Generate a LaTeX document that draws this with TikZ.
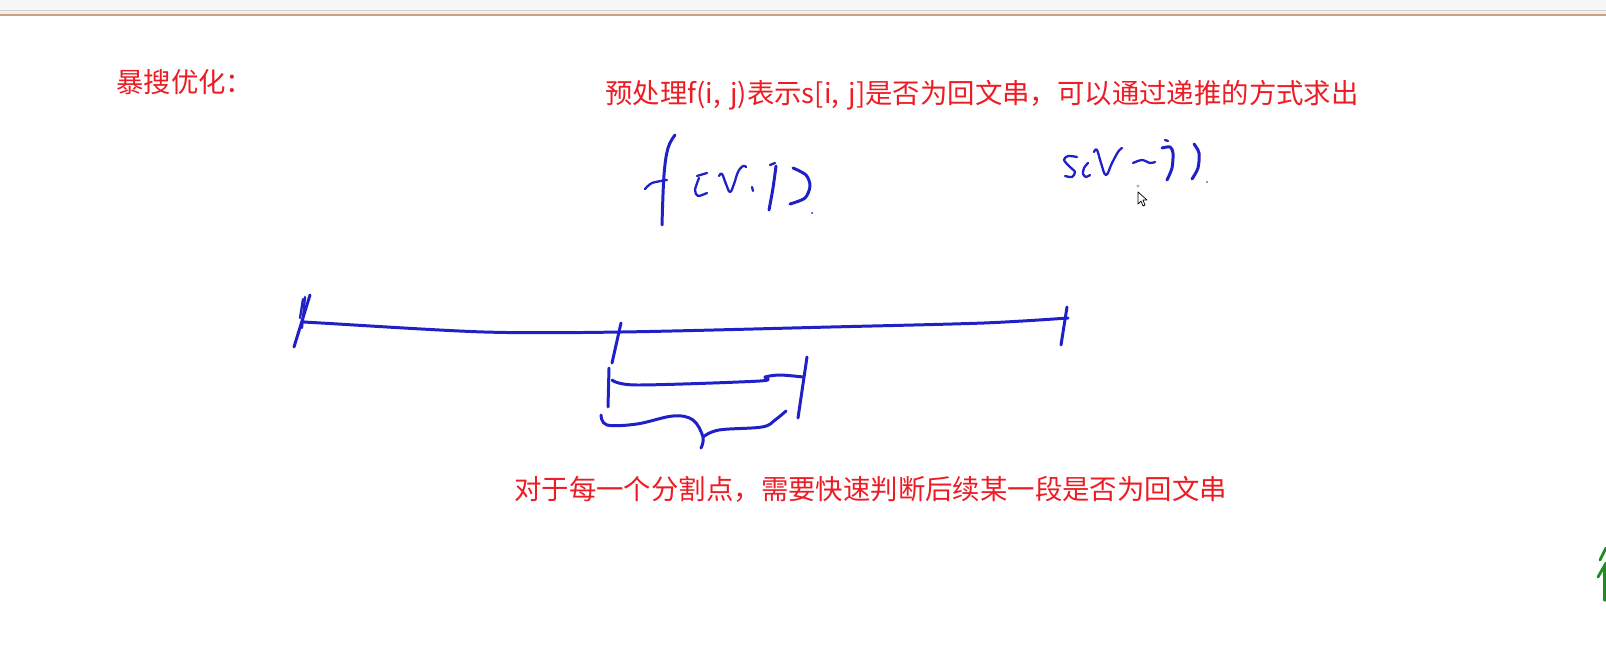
\documentclass[tikz,border=0pt]{standalone}
\usepackage{fontspec}
\newfontfamily\cjk{Noto Sans CJK SC}
\usetikzlibrary{positioning}
\definecolor{notered}{RGB}{237,28,36}
\definecolor{pen}{RGB}{32,32,200}
\definecolor{pengreen}{RGB}{30,140,30}
\definecolor{barbg}{RGB}{247,247,247}
\definecolor{barpeach}{RGB}{253,236,226}
\definecolor{barline}{RGB}{196,160,140}

\begin{document}
\begin{tikzpicture}[x=0.02cm,y=-0.02cm,
    remark/.style={font=\cjk\fontsize{15.6}{18}\selectfont,text=notered,inner sep=0pt,anchor=west},
    ink/.style={draw=pen,line width=1.7pt,line cap=round,line join=round},
    thin ink/.style={ink,line width=1.3pt}]
   \useasboundingbox (0,0) rectangle (1606,668);
   % window bar
   \fill[barbg] (0,0) rectangle (1606,10);
   \draw[gray!35,line width=0.4pt] (0,10.3)--(1606,10.3);
   \fill[barpeach] (0,11) rectangle (1606,15);
   \draw[barline,line width=0.8pt] (0,15.2)--(1606,15.2);
   % notes
   \node[remark] (title) at (116,82) {暴搜优化：};
   \node[remark] (pre) at (605,95) {预处理f(i,\hspace{0.12em} j)表示s[i,\hspace{0.12em} j]是否为回文串，可以通过递推的方式求出};
   \node[remark] (cut) at (514,489) {对于每一个分割点，需要快速判断后续某一段是否为回文串};
   % handwriting f(i,j)
   \draw[ink] plot[smooth,tension=0.6] coordinates {(675,135) (668,148) (664,175) (662,225)};
   \draw[thin ink] plot[smooth] coordinates {(645,189) (652,183) (667,180)};
   \draw[thin ink] (697,176)--(707,173);
   \draw[thin ink] plot[smooth] coordinates {(699,178) (695,190) (698,196) (707,193)};
   \draw[thin ink] plot[smooth,tension=0.7] coordinates {(719,176) (722,174) (726,184) (730,192) (734,184) (738,172) (743,166) (746,167)};
   \draw[thin ink] (752,187)--(753,191);
   \draw[thin ink] (770,165)--(775,163);
   \draw[ink] plot[smooth] coordinates {(776,166) (773,188) (769,210)};
   \draw[ink] plot[smooth] coordinates {(793,168) (806,175) (810,186) (805,198) (790,204)};
   \fill[pen] (812,213) circle (1);
   % handwriting s(i~j)
   \draw[thin ink] plot[smooth] coordinates {(1077,157) (1068,156) (1064,160) (1070,167) (1075,172) (1072,177) (1065,176)};
   \draw[thin ink] plot[smooth] coordinates {(1088,163) (1084,168) (1083,174) (1086,177) (1090,175)};
   \draw[thin ink] plot[smooth,tension=0.7] coordinates {(1094,152) (1097,150) (1101,163) (1106,175) (1112,163) (1118,152) (1122,148)};
   \draw[thin ink] plot[smooth] coordinates {(1133,163) (1142,160) (1150,163) (1155,162)};
   \draw[thin ink] (1165,140)--(1168,141);
   \draw[ink] plot[smooth] coordinates {(1162,148) (1170,147) (1173,153) (1172,168) (1167,180)};
   \draw[ink] plot[smooth] coordinates {(1194,144) (1199,153) (1198,168) (1192,179)};
   \fill[pen] (1207,182) circle (0.9);
   % cursor
   \fill[gray!60] (1138,186) circle (1.6);
   \draw[black,fill=white,line width=0.4pt,line join=round]
     (1138,192)--(1138,204)--(1141,201)--(1143,206)--(1145,205)--(1143,200)--(1147,200)--cycle;
   % the string and its cut
   \draw[ink] (310,295)--(294,347);
   \draw[thin ink] (305,297)--(302,328);
   \draw[thin ink] (303,299)--(300,318);
   \draw[ink] plot[smooth,tension=0.5] coordinates {(305,322) (321,323) (484,332) (622,332) (831,327) (984,323) (1068,318)};
   \draw[ink] (1067,307)--(1061,345);
   \draw[ink] (621,323)--(612,363);
   \draw[ink] (609,368)--(608,407);
   \draw[ink] plot[smooth,tension=0.5] coordinates {(612,380) (637,385) (760,381) (765,377) (780,375) (803,377)};
   \draw[ink] (807,357)--(798,418);
   \draw[ink] plot[smooth,tension=0.6] coordinates {(601,415) (607,425) (637,424) (673,416) (693,420) (703,437) (701,448)};
   \draw[ink] plot[smooth,tension=0.6] coordinates {(703,437) (719,430) (762,427) (775,420) (786,411)};
   % green mark at the edge
   \draw[pengreen,line width=1.6pt,line cap=round] (1606,548)--(1600,560);
   \draw[pengreen,line width=1.6pt,line cap=round] (1606,563)--(1598,577);
   \draw[pengreen,line width=1.8pt,line cap=round] (1605,568)--(1605,600);
\end{tikzpicture}
\end{document}
